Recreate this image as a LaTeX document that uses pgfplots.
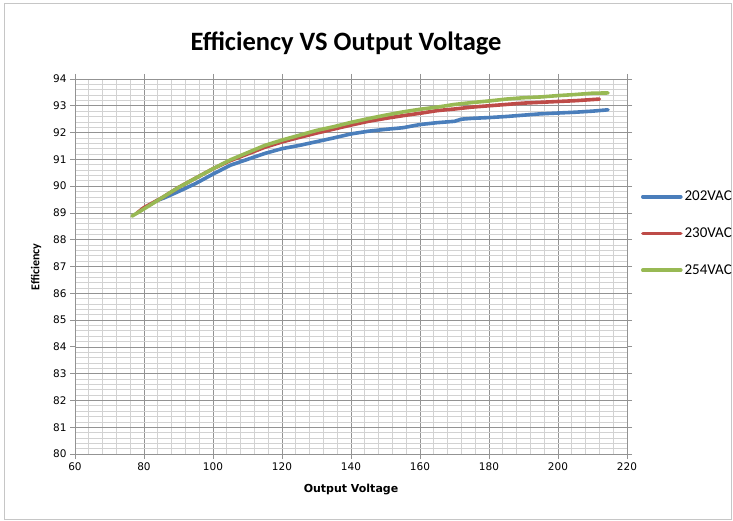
\documentclass[border=0pt]{standalone}
\usepackage{fontspec}
\usepackage{pgfplots}
\pgfplotsset{compat=1.18}
\setmainfont{Carlito}
\newfontfamily\dejavu{DejaVu Sans}

\definecolor{xlblue}{HTML}{4A7EBB}
\definecolor{xlred}{HTML}{BE4B48}
\definecolor{xlgreen}{HTML}{98B954}

\begin{document}
\begin{tikzpicture}[x=1pt,y=1pt]
  \path[use as bounding box] (0,0) rectangle (733,-521);
  \draw[gray!45] (4,-3) rectangle (731,-519);
  \node[font=\bfseries\fontsize{26.5}{30}\selectfont] at (346,-43) {Efficiency VS Output Voltage};
  \begin{axis}[
      at={(75pt,-454pt)}, anchor=south west,
      scale only axis, width=552pt, height=375pt,
      xmin=60, xmax=220, ymin=80, ymax=94,
      xtick={60,80,...,220}, ytick={80,81,...,94},
      minor x tick num=4, minor y tick num=4,
      grid=both,
      major grid style={gray!85, line width=0.7pt},
      minor grid style={gray!35, line width=0.7pt},
      axis line style={gray!85, line width=0.8pt},
      tick align=outside, major tick length=5pt, minor tick length=0pt,
      tick style={gray!85, line width=0.8pt},
      /pgf/number format/assume math mode=true,
      tick label style={font=\dejavu\fontsize{10.5}{12}\selectfont},
      legend cell align=left,
      legend style={at={(axis description cs:1.025,0.588)}, anchor=west,
        draw=none, fill=none, font=\fontsize{15}{17}\selectfont,
        row sep=21.5pt, inner sep=0pt},
      legend image code/.code={\draw[#1] (0pt,0pt) -- (38pt,0pt);},
      every axis plot/.append style={line width=3.6pt, line cap=round, line join=round},
    ]
    \addplot[xlblue] coordinates {
      (83.5,89.45) (86,89.57) (90,89.8) (95,90.1) (100,90.45) (105,90.78)
      (110,91.0) (115,91.22) (120,91.4) (125,91.52) (130,91.66) (135,91.8)
      (140,91.95) (145,92.05) (150,92.12) (155,92.18) (160,92.3) (165,92.37)
      (170,92.42) (172,92.5) (175,92.53) (180,92.56) (185,92.6) (190,92.65)
      (195,92.7) (200,92.73) (205,92.76) (210,92.8) (214.5,92.85)
    };
    \addlegendentry{202VAC}
    \addplot[xlred] coordinates {
      (78,89.0) (80,89.2) (85,89.55) (90,89.95) (95,90.3) (100,90.65)
      (105,90.95) (110,91.2) (115,91.45) (120,91.65) (125,91.82) (130,91.98)
      (135,92.13) (140,92.28) (145,92.42) (150,92.53) (155,92.63) (160,92.72)
      (165,92.82) (170,92.88) (175,92.95) (180,93.0) (185,93.05) (190,93.1)
      (195,93.13) (200,93.16) (205,93.19) (212,93.25)
    };
    \addlegendentry{230VAC}
    \addplot[xlgreen] coordinates {
      (76.5,88.88) (80,89.15) (85,89.55) (90,89.95) (95,90.3) (100,90.65)
      (105,90.98) (110,91.25) (115,91.52) (120,91.72) (125,91.9) (130,92.08)
      (135,92.22) (140,92.38) (145,92.52) (150,92.65) (155,92.77) (160,92.87)
      (165,92.95) (170,93.05) (175,93.12) (180,93.18) (185,93.25) (190,93.3)
      (195,93.33) (200,93.38) (205,93.42) (210,93.47) (214.5,93.48)
    };
    \addlegendentry{254VAC}
  \end{axis}
  \node[font=\dejavu\bfseries\fontsize{11}{13}\selectfont] at (351,-490) {Output Voltage};
  \node[font=\bfseries\fontsize{12}{14}\selectfont, rotate=90] at (36,-267) {Efficiency};
\end{tikzpicture}
\end{document}
